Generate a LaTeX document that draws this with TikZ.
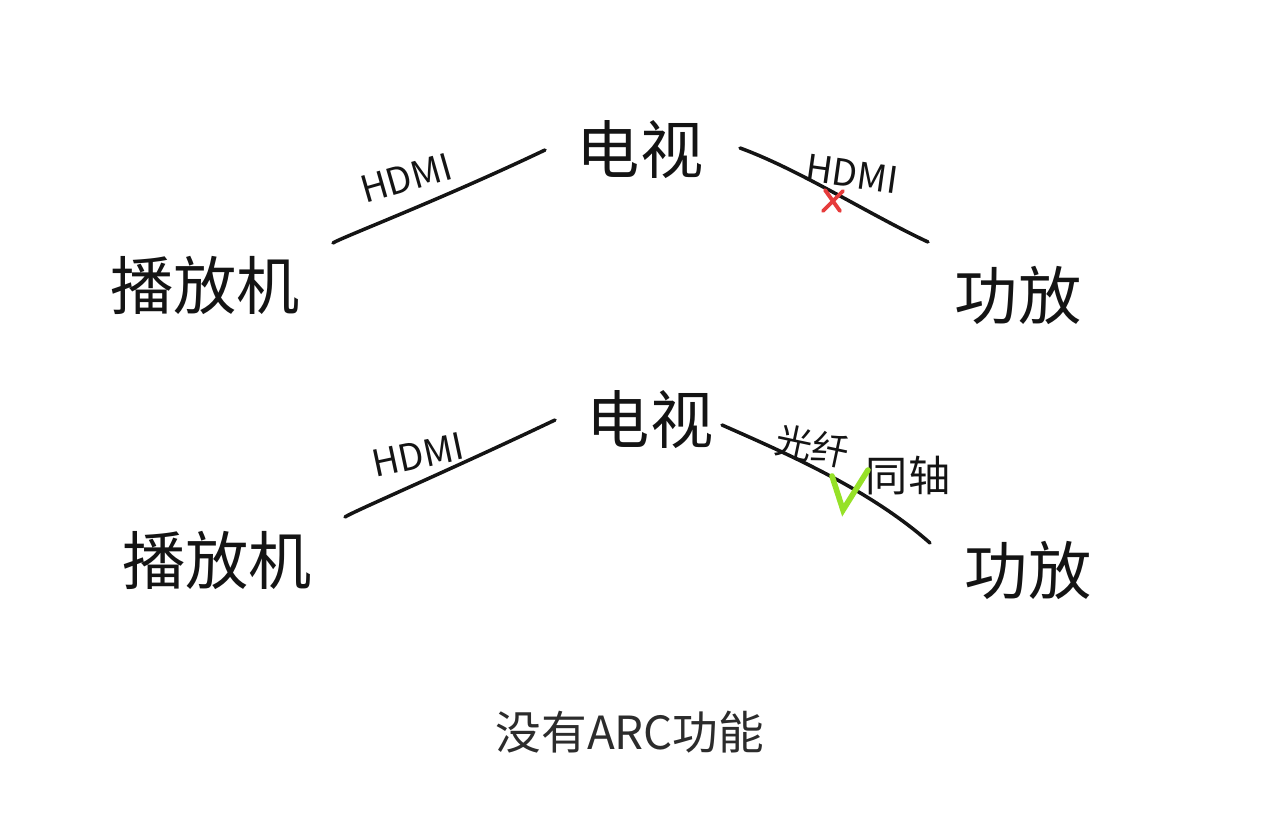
\documentclass[tikz,border=0pt]{standalone}
\usepackage{fontspec}
\newfontfamily\cjk{Noto Sans CJK SC}
\usetikzlibrary{positioning}
\definecolor{ink}{RGB}{20,20,20}
\definecolor{okgreen}{RGB}{150,225,40}
\definecolor{badred}{RGB}{230,60,60}
\tikzset{every path/.style={ink,line width=2pt,line cap=round},
  device/.style={font=\cjk\fontsize{36}{36}\selectfont,text=ink,inner sep=0pt},
  cable/.style={font=\cjk\fontsize{21}{21}\selectfont,text=ink,inner sep=0pt}}

\begin{document}
\begin{tikzpicture}[x=0.02cm,y=-0.02cm]
  \useasboundingbox (0,0) rectangle (1280,824);
  % upper row
  \begin{scope}
    \node[device] (player) at (205,285) {播放机};
    \node[device] (tv)     at (640,150) {电视};
    \node[device] (amp)    at (1018,295) {功放};
    \coordinate (p1) at (333,243); \coordinate (t1) at (545,150);
    \coordinate (t2) at (740,148); \coordinate (a2) at (928,242);
    \draw (p1) .. controls (340,238) and (440,200) .. (t1);
    \draw (t2) .. controls (800,170) and (870,215) .. (a2);
    \node[cable,rotate=16]  (hdmiA) at (406,178) {HDMI};
    \node[cable,rotate=-8] (hdmiB) at (852,174) {HDMI};
    \draw[badred,line width=2.2pt] (825,190) -- (840,211) (843,191) -- (823,211);
  \end{scope}
  % lower row
  \begin{scope}
    \node[device] (player2) at (217,560) {播放机};
    \node[device] (tv2)     at (650,420) {电视};
    \node[device] (amp2)    at (1028,570) {功放};
    \coordinate (p3) at (345,517); \coordinate (t4) at (722,425);
    \coordinate (t3) at (555,420); \coordinate (a4) at (930,543);
    \draw (p3) .. controls (352,512) and (450,470) .. (t3);
    \draw (t4) .. controls (790,455) and (870,490) .. (a4);
    \node[cable,rotate=12] (hdmiC) at (418,455) {HDMI};
    \node[cable,rotate=-12] (optic) at (812,446) {光纤};
    \node[cable,font=\cjk\fontsize{24}{24}\selectfont] (coax) at (908,476) {同轴};
    \draw[okgreen,line width=3.2pt] (832,476) -- (843,510) -- (868,470);
  \end{scope}
  \node[font=\cjk\fontsize{26}{26}\selectfont,text=ink!90] (note) at (630,732) {没有ARC功能};
\end{tikzpicture}
\end{document}
